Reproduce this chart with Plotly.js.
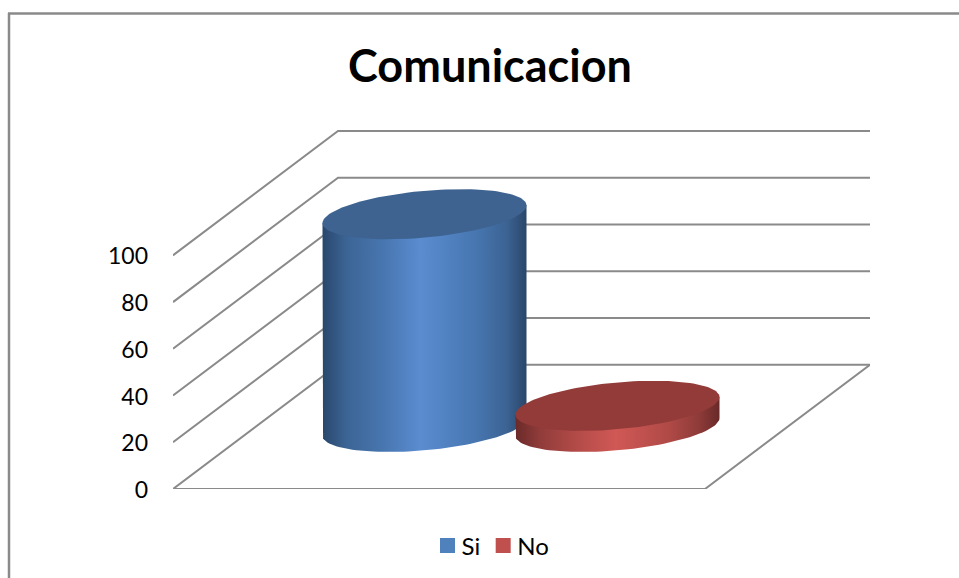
<!DOCTYPE html>
<html>
<head>
<meta charset="utf-8">
<script src="https://cdn.plot.ly/plotly-3.0.1.min.js"></script>
<style>html,body{margin:0;padding:0;background:#fff}#c{width:959px;height:578px}</style>
</head>
<body>
<div id="c"></div>
<script>
// Data
const chartTitle = 'Comunicacion';
const categories = ['Si', 'No'];
const values = [91, 9];
const tickVals = [0, 20, 40, 60, 80, 100];
const swatchColors = ['#4f81bd', '#c0504d'];
const topColors = ['#3e6391', '#933b39'];
const sideScales = [
  [[0,'#29476c'],[0.12,'#3c6596'],[0.3,'#4876b0'],[0.48,'#5a8cd0'],[0.75,'#4776b0'],[0.9,'#3c6494'],[1,'#2a466a']],
  [[0,'#6a2a29'],[0.12,'#903c3a'],[0.3,'#b34b48'],[0.49,'#d05855'],[0.75,'#b04a47'],[0.9,'#8e3b39'],[1,'#682928']]
];

// Oblique projection of the 3D chart box onto the 2D axes
const W = 532, DX = 165, DY = 53.2;          // floor width, depth shift
const catX = [169, 362], catDepth = 0.5;     // category centres on the floor
const A = 102, SHEAR = -8.85, B = 23.4, PXY = 2.33;

function ellipse(cx, cy, t0, t1, n) {
  const xs = [], ys = [];
  for (let i = 0; i <= n; i++) {
    const t = t0 + (t1 - t0) * i / n;
    xs.push(cx + A * Math.cos(t));
    // screen y grows downward; data y grows upward
    ys.push(cy - (SHEAR * Math.cos(t) + B * Math.sin(t)) / PXY);
  }
  return {x: xs, y: ys};
}

const traces = [];
// Walls and grid
const gx = [], gy = [];
tickVals.forEach(v => {
  gx.push(0, DX, W + DX, null);
  gy.push(v, v + DY, v + DY, null);
});
gx.push(0, W, W + DX); gy.push(0, 0, DY);
traces.push({type:'scatter', mode:'lines', x:gx, y:gy, cliponaxis:false, hoverinfo:'skip', showlegend:false,
  line:{color:'#8a8a8a', width:2}});

// Cylinders
categories.forEach((name, i) => {
  const cx = catX[i] + catDepth * DX, by = catDepth * DY, ty = by + values[i];
  const front = ellipse(cx, by, Math.PI, 0, 60);        // lower half of base, left to right
  const leftTop = ty + SHEAR / PXY, rightTop = ty - SHEAR / PXY;
  const sideX = [cx - A].concat(front.x, [cx + A, cx - A]);
  const sideY = [leftTop].concat(front.y, [rightTop, leftTop]);
  traces.push({type:'scatter', mode:'lines', x:sideX, y:sideY, fill:'toself', cliponaxis:false,
    fillgradient:{type:'horizontal', colorscale:sideScales[i]},
    line:{width:0}, hoverinfo:'skip', showlegend:false});
  const top = ellipse(cx, ty, 0, 2 * Math.PI, 120);
  traces.push({type:'scatter', mode:'lines', x:top.x, y:top.y, fill:'toself', fillcolor:topColors[i], cliponaxis:false,
    line:{width:0}, name:name, text:name + ': ' + values[i], hoverinfo:'text', showlegend:false});
});

// Legend entries
categories.forEach((name, i) => {
  traces.push({type:'scatter', mode:'markers', x:[null], y:[values[i]], name:name, showlegend:true,
    marker:{symbol:'square', size:15, color:swatchColors[i]}});
});

const layout = {
  width:959, height:578, autosize:false,
  paper_bgcolor:'#fff', plot_bgcolor:'rgba(0,0,0,0)',
  margin:{l:173, r:89, t:130, b:89, pad:0},
  font:{family:'Lato, sans-serif', color:'#000'},
  title:{text:'<b>' + chartTitle + '</b>', font:{size:45, family:'Lato, sans-serif', color:'#000'},
    x:490/959, xanchor:'center', xref:'container', y:1-66/578, yanchor:'middle', yref:'container'},
  xaxis:{range:[0, 697], visible:false, fixedrange:true},
  yaxis:{range:[0, 358/PXY], tickmode:'array', tickvals:tickVals, ticktext:tickVals.map(String),
    showgrid:false, zeroline:false, showline:false, ticks:'', ticklabelstandoff:24, ticklabelshift:1,
    tickfont:{size:23, family:'Lato, sans-serif', color:'#000'}, fixedrange:true},
  legend:{orientation:'h', x:492/959, xanchor:'center', xref:'container', y:32/578, yanchor:'middle', yref:'container',
    font:{size:24, family:'Lato, sans-serif', color:'#000'}, itemwidth:30, traceorder:'normal', bgcolor:'rgba(0,0,0,0)'},
  shapes:[
    {type:'line', xref:'paper', yref:'paper', x0:(8-173)/697, x1:(959-173)/697, y0:(489-13.5)/359, y1:(489-13.5)/359, line:{color:'#8a8a8a', width:2.5}, layer:'below'},
    {type:'line', xref:'paper', yref:'paper', x0:(9-173)/697, x1:(9-173)/697, y0:(489-13)/359, y1:(489-578)/359, line:{color:'#8a8a8a', width:2.5}, layer:'below'}
  ],
  showlegend:true
};
Plotly.newPlot('c', traces, layout, {displayModeBar:false, staticPlot:true}).then(gd => {
  // Tighten the legend: swatch closer to its label, entries closer together
  gd.querySelectorAll('.legend .legendsymbols').forEach(s => s.setAttribute('transform', 'translate(6,0)'));
  const items = gd.querySelectorAll('.legend .traces');
  if (items[1]) {
    const m = /translate\(([-\d.]+),\s*([-\d.]+)\)/.exec(items[1].getAttribute('transform') || '');
    if (m) items[1].setAttribute('transform', 'translate(' + (parseFloat(m[1]) - 8) + ',' + m[2] + ')');
  }
});
</script>
</body>
</html>
